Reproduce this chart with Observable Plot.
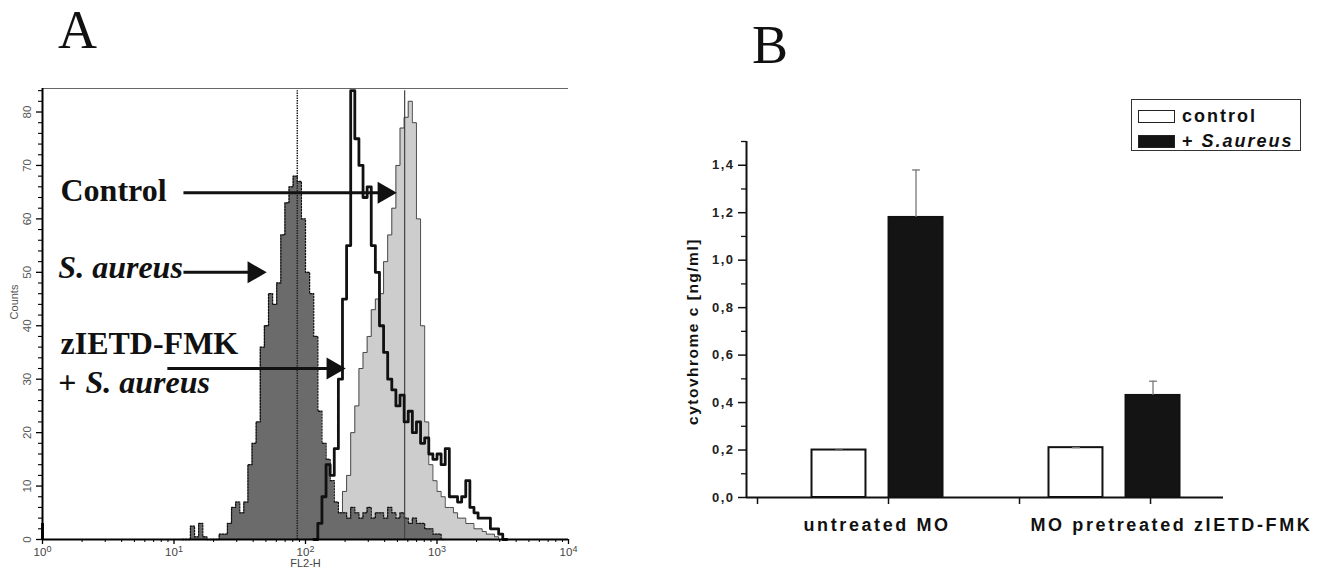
<!DOCTYPE html>
<html>
<head>
<meta charset="utf-8">
<script src="https://cdn.jsdelivr.net/npm/d3@7"></script>
<script src="https://cdn.jsdelivr.net/npm/@observablehq/plot@0.6"></script>
<style>
  body { margin: 0; background: #fff; }
  #wrap { position: relative; width: 1327px; height: 576px; overflow: hidden; background: #fff; }
  .panel { position: absolute; top: 0; }
  .letter { position: absolute; font-family: "Liberation Serif", "Times New Roman", serif; font-size: 54px; line-height: 1; color: #111; }
  #legend { position: absolute; left: 1131px; top: 99px; width: 170px; height: 52px; border: 1px solid #333; box-sizing: border-box;
            font-family: "Liberation Sans", Arial, sans-serif; font-weight: bold; font-size: 18px; letter-spacing: 2px; color: #111; }
  #legend .row { position: absolute; left: 6px; height: 18px; display: flex; align-items: center; }
  #legend .sw { width: 37px; height: 13px; box-sizing: border-box; border: 1.5px solid #222; margin-right: 7px; }
</style>
</head>
<body>
<div id="wrap">
  <div id="panelA" class="panel" style="left:0px"></div>
  <div id="panelB" class="panel" style="left:600px"></div>
  <div class="letter" style="left:58px; top:3px">A</div>
  <div class="letter" style="left:752px; top:18px">B</div>
  <div id="legend"></div>
</div>
<script>
// ================= PANEL A : flow cytometry histograms =================
const CHANNELS_PER_DECADE = 256;   // 1024-channel, 4-decade log amplifier
const CHANNELS_PER_BIN = 8;

const saureusStartBin = 34;
const saureusCounts = [0,0,2.5,0.5,3,0.5,0,0,0,1, 1,3,6,7,5,7,14,18,22,36, 40,46,44,48,57,63,66,68,67,60,
                       50,46,38,24,18,15,11,7,5,5, 4,6,5,4,5,6,4,5,5,4, 6,5,4,5,4,3,4,3,3,2, 2,1,1,0];
const controlStartBin = 70;
const controlCounts = [0,1,5,9,12,20,25,32,35,38, 43,45,46,52,57,62,70,77,79,82, 78,60,40,22,14,11,9,8,6,6,
                       5,4,4,3,3,2,2,1.5,1,1, 0.5,0];
const zietdStartBin = 66;
const zietdCounts = [0,3,8,14,12,17,30,45,55,84, 75,70,64,66,55,50,40,35,30,28, 25,27,22,24,20,22,18,19,16,15,
                     16,14,17,8,8,7,8,11,6,5, 4,4,4,2,2,1,0];

// single-channel spikes
const spikeChannels = [0, 496, 705];
const spikeCounts   = [3, 84, 84];
const spikeSeries   = ["zIETD", "saureus", "control"];

const yMajorA = [0,10,20,30,40,50,60,70,80];
const yMinorA = [2,4,6,8,12,14,16,18,22,24,26,28,32,34,36,38,42,44,46,48,52,54,56,58,62,64,66,68,72,74,76,78,82,84];
const xMajorA = [1,10,100,1000,10000];
const xMinorA = [2,3,4,5,6,7,8,9,20,30,40,50,60,70,80,90,200,300,400,500,600,700,800,900,2000,3000,4000,5000,6000,7000,8000,9000];
const yTopA = 84.4;

// annotations (data units)
const annLabels  = ["Control", "S. aureus", "zIETD-FMK", "+", "S. aureus"];
const annX       = [1.37, 1.32, 1.37, 1.32, 2.12];
const annY       = [63.4, 49.0, 34.8, 27.5, 27.5];
const annItalic  = [false, true, false, false, true];
const arrowFrom  = [11.8, 11.8, 8.9];
const arrowTo    = [467, 47.9, 191];
const arrowY     = [64.9, 50.0, 32.0];

const chToValue = ch => 10 ** (ch / CHANNELS_PER_DECADE);
function stepPoints(startBin, counts) {
  const pts = [{x: chToValue(startBin * CHANNELS_PER_BIN), y: 0}];
  counts.forEach((c, k) => {
    pts.push({x: chToValue((startBin + k) * CHANNELS_PER_BIN), y: c});
    pts.push({x: chToValue((startBin + k + 1) * CHANNELS_PER_BIN), y: c});
  });
  pts.push({x: chToValue((startBin + counts.length) * CHANNELS_PER_BIN), y: 0});
  return pts;
}
const saureusPts = stepPoints(saureusStartBin, saureusCounts);
const controlPts = stepPoints(controlStartBin, controlCounts);
const zietdPts   = stepPoints(zietdStartBin, zietdCounts);
const spikes = spikeChannels.map((ch, i) => ({x: Math.max(1, chToValue(ch)), c: spikeCounts[i], s: spikeSeries[i]}));
const ann = annLabels.map((t, i) => ({t, x: annX[i], y: annY[i], it: annItalic[i]}));
const arrows = arrowFrom.map((x1, i) => ({x1, x2: arrowTo[i], y: arrowY[i]}));
const serif = "Liberation Serif, Times New Roman, serif";

const plotA = Plot.plot({
  width: 600, height: 576,
  marginLeft: 42, marginRight: 32, marginTop: 88, marginBottom: 37,
  style: {background: "transparent", fontFamily: "Liberation Sans, Arial, sans-serif", fontSize: "11px", color: "#000", overflow: "visible"},
  x: {type: "log", domain: [1, 10000]},
  y: {domain: [0, yTopA]},
  marks: [
    Plot.areaY(controlPts, {x: "x", y1: 0, y2: "y", fill: "#cdcdcd"}),
    Plot.line(controlPts, {x: "x", y: "y", stroke: "#3a3a3a", strokeWidth: 0.9}),
    Plot.areaY(saureusPts, {x: "x", y1: 0, y2: "y", fill: "#6b6b6b"}),
    Plot.line(saureusPts, {x: "x", y: "y", stroke: "#111", strokeWidth: 1.3, strokeDasharray: "1.5,1.5"}),
    Plot.ruleX(spikes.filter(d => d.s === "saureus"), {x: "x", y1: 0, y2: "c", stroke: "#222", strokeWidth: 1.5, strokeDasharray: "1.5,1"}),
    Plot.ruleX(spikes.filter(d => d.s === "control"), {x: "x", y1: 0, y2: "c", stroke: "#444", strokeWidth: 1.2}),
    Plot.line(zietdPts, {x: "x", y: "y", stroke: "#111", strokeWidth: 2.8}),
    Plot.ruleX(spikes.filter(d => d.s === "zIETD"), {x: "x", y1: 0, y2: "c", stroke: "#111", strokeWidth: 3}),
    // frame
    Plot.ruleY([yTopA], {stroke: "#666", strokeWidth: 1.2}),
    Plot.ruleX([1], {stroke: "#000", strokeWidth: 2}),
    Plot.ruleY([0], {stroke: "#000", strokeWidth: 2.2}),
    // axes
    Plot.axisY(yMajorA, {tickSize: 6, tickFormat: () => "", label: null, strokeWidth: 1.3}),
    Plot.axisY(yMinorA, {tickSize: 4, tickFormat: () => "", label: null, strokeWidth: 1.1}),
    Plot.text(yMajorA, {y: d => d, frameAnchor: "left", dx: -15, rotate: -90, textAnchor: "middle", text: d => String(d), fill: "#555", fontSize: 11.5}),
    Plot.axisX(xMajorA, {tickSize: 5, tickPadding: 3, tickFormat: d => "10^" + Math.round(Math.log10(d)), label: null, fill: "#444", fontSize: 11.5, strokeWidth: 1.3}),
    Plot.axisX(xMinorA, {tickSize: 3, tickFormat: () => "", label: null, strokeWidth: 1}),
    Plot.text(["FL2-H"], {frameAnchor: "bottom", dy: 27, fill: "#444", fontSize: 11}),
    Plot.text(["Counts"], {frameAnchor: "left", dx: -28, dy: -12, rotate: -90, textAnchor: "middle", fill: "#555", fontSize: 11}),
    // annotations
    Plot.link(arrows, {x1: "x1", x2: "x2", y1: "y", y2: "y", stroke: "#111", strokeWidth: 3}),
    Plot.dot(arrows, {x: "x2", y: "y", symbol: "triangle", r: 8.2, rotate: 90, fill: "#111", stroke: "none", dx: -9.5}),
    Plot.text(ann.filter(d => !d.it), {x: "x", y: "y", text: "t", textAnchor: "start", lineAnchor: "bottom",
      fontFamily: serif, fontWeight: "bold", fontSize: 32, fill: "#111"}),
    Plot.text(ann.filter(d => d.it), {x: "x", y: "y", text: "t", textAnchor: "start", lineAnchor: "bottom",
      fontFamily: serif, fontWeight: "bold", fontStyle: "italic", fontSize: 32, fill: "#111"})
  ]
});
// superscript exponents on the log-axis labels
d3.select(plotA).selectAll("text").each(function() {
  const m = /^10\^(\d)$/.exec(this.textContent);
  if (!m) return;
  const t = d3.select(this);
  t.text("10");
  t.append("tspan").attr("dy", "-0.45em").style("font-size", "9px").text(m[1]);
});
document.getElementById("panelA").appendChild(plotA);

// ================= PANEL B : cytochrome c bar chart =================
const groups = ["untreated MO", "MO pretreated zIETD-FMK"];
const seriesNames = ["control", "+ S.aureus"];
const controlValues = [0.20, 0.21];
const saureusValues = [1.18, 0.43];
const controlErr = [0.0, 0.0];
const saureusErr = [0.20, 0.06];
const yMajorB = [0, 0.2, 0.4, 0.6, 0.8, 1.0, 1.2, 1.4];
const yMinorB = [0.1, 0.3, 0.5, 0.7, 0.9, 1.1, 1.3, 1.5];
const yLabelB = "cytovhrome c [ng/ml]";
const seriesFill = ["#ffffff", "#141414"];

// layout (x in axis units; one unit = distance between x ticks)
const xDomainB = [-0.084, 3.557];
const xTicksB = [0, 1, 2, 3];
const groupCenter = [0.916, 2.725];
const barOffset = [-0.294, 0.294];
const barHalf = 0.206;
const capHalf = 0.03;
const groupLabelStart = [0.351, 2.084];

const bars = [];
groups.forEach((g, gi) => {
  [controlValues, saureusValues].forEach((vals, si) => {
    const c = groupCenter[gi] + barOffset[si];
    bars.push({g, s: seriesNames[si], c, x1: c - barHalf, x2: c + barHalf, v: vals[gi],
               e: [controlErr, saureusErr][si][gi], fill: seriesFill[si]});
  });
});
const fmtComma = d => d.toFixed(1).replace(".", ",");

const plotB = Plot.plot({
  width: 727, height: 576,
  marginLeft: 146, marginRight: 104, marginTop: 141, marginBottom: 79,
  style: {background: "transparent", fontFamily: "Liberation Sans, Arial, sans-serif", fontSize: "13px", color: "#111", overflow: "visible", letterSpacing: "1.5px"},
  x: {domain: xDomainB},
  y: {domain: [0, 1.5]},
  marks: [
    Plot.rectY(bars, {x1: "x1", x2: "x2", y: "v", fill: "fill", stroke: "#111", strokeWidth: 2}),
    Plot.ruleX(bars.filter(d => d.e > 0), {x: "c", y1: "v", y2: d => d.v + d.e, stroke: "#777", strokeWidth: 1.3}),
    Plot.link(bars, {x1: d => d.c - capHalf, x2: d => d.c + capHalf, y1: d => d.v + d.e, y2: d => d.v + d.e, stroke: "#777", strokeWidth: 1.3}),
    Plot.ruleX([xDomainB[0]], {stroke: "#111", strokeWidth: 2}),
    Plot.ruleY([0], {stroke: "#111", strokeWidth: 2}),
    Plot.axisY(yMajorB, {tickSize: 8, tickFormat: () => "", label: null, strokeWidth: 1.5}),
    Plot.axisY(yMinorB, {tickSize: 5, tickFormat: () => "", label: null, strokeWidth: 1.3}),
    Plot.text(yMajorB, {y: d => d, frameAnchor: "left", dx: -12, textAnchor: "end", text: fmtComma, fontWeight: "bold", fontSize: 13, fill: "#222"}),
    Plot.axisX(xTicksB, {tickSize: 7, tickFormat: () => "", label: null, strokeWidth: 1.5}),
    Plot.text(groups, {x: (d, i) => groupLabelStart[i], y: 0, dy: 33, text: d => d, textAnchor: "start", lineAnchor: "bottom",
      fontWeight: "bold", fontSize: 18, fill: "#111"}),
    Plot.text([yLabelB], {frameAnchor: "left", dx: -53, dy: 12, rotate: -90, textAnchor: "middle", fontWeight: "bold", fontSize: 15.5, fill: "#111"})
  ]
});
d3.select(plotB).selectAll("text").filter(function() { return groups.includes(this.textContent); })
  .style("letter-spacing", "2.6px");
document.getElementById("panelB").appendChild(plotB);

// legend
const legend = d3.select("#legend");
seriesNames.forEach((name, i) => {
  const row = legend.append("div").attr("class", "row").style("top", (i === 0 ? 7 : 32) + "px");
  row.append("div").attr("class", "sw").style("background", seriesFill[i]);
  if (name.startsWith("+ ")) {
    row.append("span").text("+\u00a0");
    row.append("span").style("font-style", "italic").text(name.slice(2));
  } else {
    row.append("span").text(name);
  }
});
</script>
</body>
</html>
